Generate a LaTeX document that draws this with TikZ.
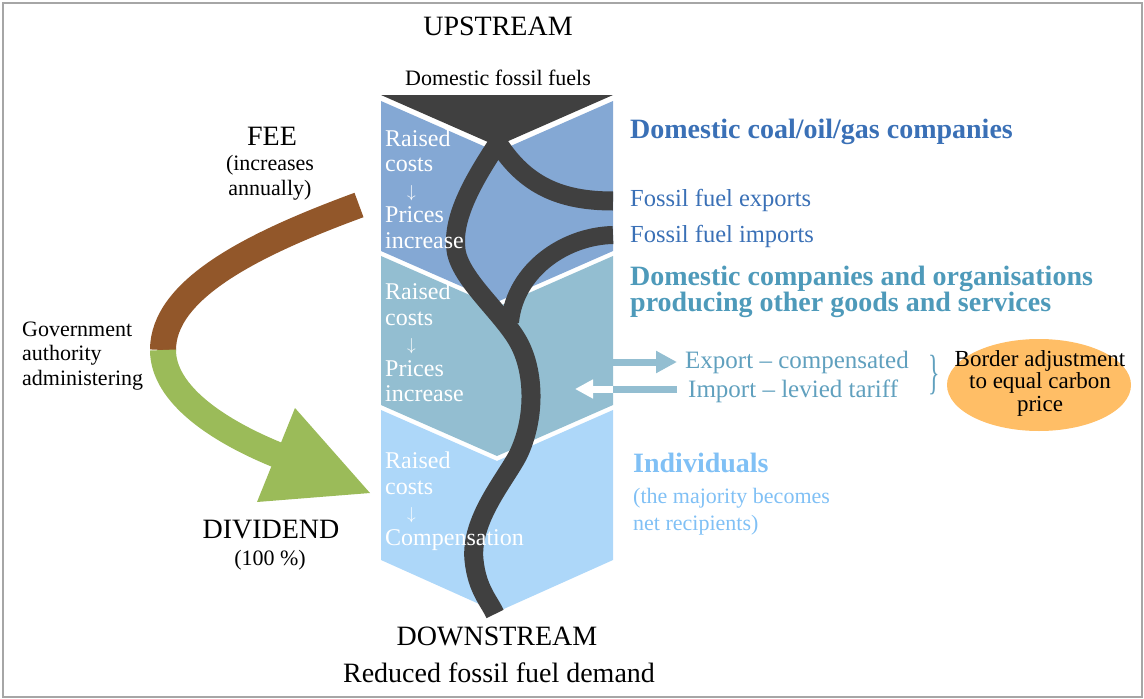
\documentclass[tikz,border=0pt]{standalone}
\usepackage{fontspec}
\usepackage{graphicx}
\setmainfont{Liberation Serif}
\usetikzlibrary{arrows.meta}

\definecolor{chevA}{RGB}{132,168,212}
\definecolor{chevB}{RGB}{147,190,209}
\definecolor{chevC}{RGB}{173,215,249}
\definecolor{fuel}{RGB}{64,64,64}
\definecolor{coalblue}{RGB}{58,112,182}
\definecolor{goodsteal}{RGB}{78,154,186}
\definecolor{tradeteal}{RGB}{96,160,190}
\definecolor{peopleblue}{RGB}{128,192,245}
\definecolor{feebrown}{RGB}{146,87,42}
\definecolor{divgreen}{RGB}{155,187,89}
\definecolor{borderorange}{RGB}{255,190,102}

\tikzset{
  bigtext/.style={font=\fontsize{28}{30}\selectfont, inner sep=0},
  smalltext/.style={font=\fontsize{22}{25}\selectfont, align=center, inner sep=0},
  chevtext/.style={text=white, font=\fontsize{24}{25.5}\selectfont, align=left, anchor=base west, inner sep=0},
  headtext/.style={font=\fontsize{28}{26.7}\selectfont\bfseries, align=left, anchor=base west, inner sep=0},
  bodytext/.style={font=\fontsize{24.5}{26}\selectfont, anchor=base west, inner sep=0},
}

\begin{document}
\begin{tikzpicture}[x=1pt,y=-1pt]
\useasboundingbox (0,0) rectangle (1144,699);
\draw[black!35, line width=1.5pt] (3,3) rectangle (1142,697);

\fill[chevA] (381,101) -- (497,152) -- (613,101) -- (613,251) -- (497,302) -- (381,251) -- cycle;
\fill[chevB] (381,256) -- (497,307) -- (613,256) -- (613,405) -- (497,456) -- (381,405) -- cycle;
\fill[chevC] (381,410) -- (497,461) -- (613,410) -- (613,560) -- (497,612) -- (381,560) -- cycle;
\fill[fuel] (381,95) -- (613,95) -- (497,146) -- cycle;

\coordinate (apex) at (498,143);
\coordinate (export) at (613,201);
\coordinate (import) at (613,235);
\coordinate (merge) at (510,322);
\coordinate (sink) at (495,614);
\draw[fuel, line width=19pt] (apex) .. controls (470,185) and (452,220) .. (456,250)
  .. controls (460,280) and (505,315) .. (520,345)
  .. controls (535,375) and (535,420) .. (518,455)
  .. controls (505,480) and (470,520) .. (474,560)
  .. controls (477,590) and (490,602) .. (sink);
\draw[fuel, line width=19pt] (apex) .. controls (525,185) and (560,201) .. (export);
\draw[fuel, line width=18pt] (import) .. controls (565,236) and (515,270) .. (merge);

\coordinate (exp0) at (610,362);
\coordinate (exp1) at (677,362);
\coordinate (imp0) at (677,389);
\coordinate (imp1) at (613,389);
\coordinate (imp2) at (575,389);
\draw[chevB, line width=7pt, -{Triangle[length=21pt,width=21pt]}] (exp0) -- (exp1);
\draw[chevB, line width=7pt] (imp0) -- (imp1);
\draw[white, line width=7pt, -{Triangle[length=18pt,width=18pt]}] (imp1) -- (imp2);

\coordinate (feestart) at (359,205);
\coordinate (govt) at (163,350);
\coordinate (divend) at (280,456);
\draw[feebrown, line width=26pt] (feestart) .. controls (250,245) and (163,290) .. (govt);
\draw[divgreen, line width=26pt] (govt) .. controls (163,395) and (220,432) .. (divend);
\fill[divgreen] (295,408) -- (370,493) -- (257,502) -- cycle;

\node[bigtext, anchor=base] (upstream) at (498,35) {UPSTREAM};
\node[smalltext, anchor=base] (fossil) at (498,85) {Domestic fossil fuels};
\node[bigtext, anchor=base] (downstream) at (497,645) {DOWNSTREAM};
\node[bigtext, anchor=base] (demand) at (499,682) {Reduced fossil fuel demand};

\node[bigtext, anchor=base] (fee) at (272,145) {FEE};
\node[smalltext, anchor=base] (feenote) at (270,195) {(increases\\annually)};
\node[smalltext, align=left, anchor=base west, font=\fontsize{22}{24.2}\selectfont] (govtlabel) at (22,385) {Government\\authority\\administering};
\node[bigtext, anchor=base] (dividend) at (271,538) {DIVIDEND};
\node[smalltext, anchor=base] (divnote) at (270,565) {(100 \%)};

\node[chevtext] (costsA) at (385,248) {Raised\\costs\\\hspace*{22pt}{\fontsize{18}{18}\selectfont$\downarrow$}\\Prices\\increase};
\node[chevtext] (costsB) at (385,401.5) {Raised\\costs\\\hspace*{22pt}{\fontsize{18}{18}\selectfont$\downarrow$}\\Prices\\increase};
\node[chevtext] (costsC) at (385,545) {Raised\\costs\\\hspace*{22pt}{\fontsize{18}{18}\selectfont$\downarrow$}\\Compensation};

\node[headtext, text=coalblue] (coal) at (630,138) {Domestic coal/oil/gas companies};
\node[bodytext, text=coalblue] (exports) at (630,206) {Fossil fuel exports};
\node[bodytext, text=coalblue] (imports) at (630,242) {Fossil fuel imports};
\node[headtext, text=goodsteal] (goods) at (630,311.7) {Domestic companies and organisations\\producing other goods and services};
\node[headtext, text=peopleblue] (people) at (633,472) {Individuals};
\node[smalltext, align=left, anchor=base west, text=peopleblue, font=\fontsize{22}{27}\selectfont] (peoplenote) at (633,530) {(the majority becomes\\net recipients)};

\node[bodytext, text=tradeteal, font=\fontsize{25}{26}\selectfont] (exportlabel) at (685,368.5) {Export – compensated};
\node[bodytext, text=tradeteal, font=\fontsize{25}{26}\selectfont] (importlabel) at (688,397) {Import – levied tariff};
\node[text=tradeteal, inner sep=0] (brace) at (934,375) {\scalebox{0.5}[1]{\fontsize{48}{48}\selectfont\}}};
\coordinate (bordermid) at (1039,385);
\fill[borderorange] (bordermid) ellipse [x radius=92pt, y radius=46pt];
\node[smalltext, anchor=base, font=\fontsize{23}{22.5}\selectfont] (border) at (1040,411) {Border adjustment\\to equal carbon\\price};
\end{tikzpicture}
\end{document}
